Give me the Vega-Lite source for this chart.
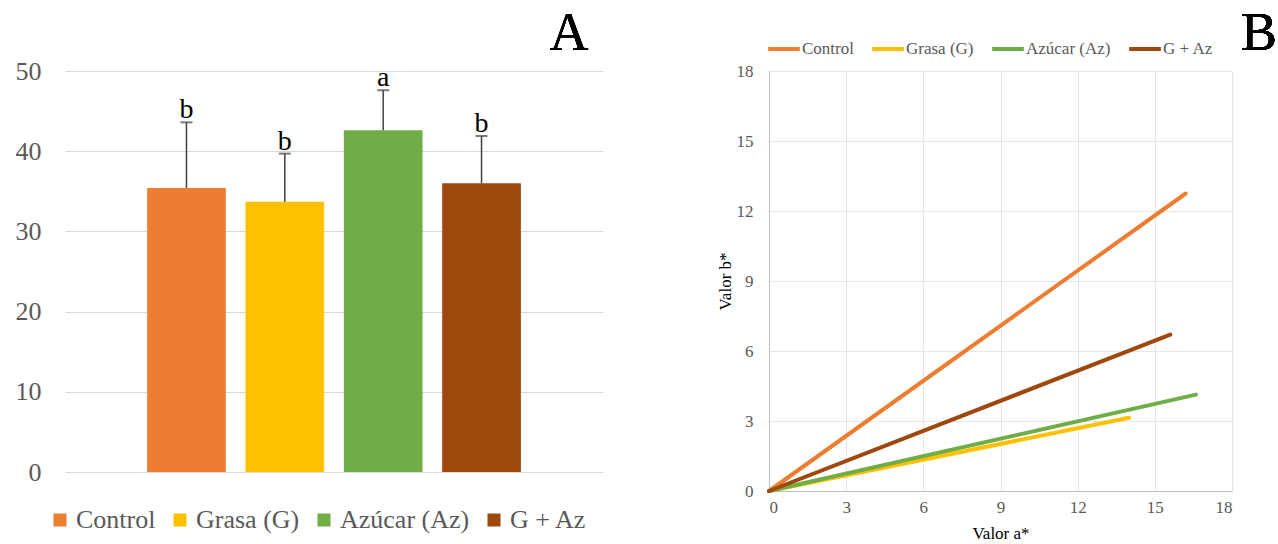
{
  "$schema": "https://vega.github.io/schema/vega-lite/v6.json",
  "background": "white",
  "padding": {"left": 15, "top": 6, "right": 0, "bottom": 0},
  "config": {"font": "Liberation Serif", "view": {"stroke": null}, "concat": {"spacing": 166}},
  "bounds": "flush",
  "resolve": {"scale": {"color": "independent"}, "legend": {"color": "independent"}},
  "datasets": {
    "bars": [
      {"grupo": "Control", "media": 35.4, "sup": 43.6, "letra": "b"},
      {"grupo": "Grasa (G)", "media": 33.7, "sup": 39.7, "letra": "b"},
      {"grupo": "Azúcar (Az)", "media": 42.6, "sup": 47.6, "letra": "a"},
      {"grupo": "G + Az", "media": 36.0, "sup": 41.9, "letra": "b"}
    ],
    "lines": [
      {"grupo": "Control", "a": 0, "b": 0},
      {"grupo": "Control", "a": 16.2, "b": 12.75},
      {"grupo": "Grasa (G)", "a": 0, "b": 0},
      {"grupo": "Grasa (G)", "a": 14.0, "b": 3.14},
      {"grupo": "Azúcar (Az)", "a": 0, "b": 0},
      {"grupo": "Azúcar (Az)", "a": 16.6, "b": 4.13},
      {"grupo": "G + Az", "a": 0, "b": 0},
      {"grupo": "G + Az", "a": 15.6, "b": 6.7}
    ]
  },
  "hconcat": [
    {
      "width": 538,
      "height": 401,
      "data": {"name": "bars"},
      "resolve": {"scale": {"x": "independent"}},
      "layer": [
        {
          "encoding": {
            "x": {"field": "grupo", "type": "nominal", "sort": ["Control", "Grasa (G)", "Azúcar (Az)", "G + Az"], "scale": {"paddingInner": 0.2, "paddingOuter": 0.835}, "axis": null}
          },
          "layer": [
            {
              "mark": {"type": "bar"},
              "encoding": {
                "y": {"field": "media", "type": "quantitative", "scale": {"domain": [0, 50]},
                  "axis": {"values": [0, 10, 20, 30, 40, 50], "title": null, "grid": true, "gridColor": "#d9d9d9", "gridWidth": 1, "domain": false, "ticks": false, "labelFontSize": 26, "labelColor": "#595959", "labelPadding": 24}},
                "color": {"field": "grupo", "type": "nominal",
                  "scale": {"domain": ["Control", "Grasa (G)", "Azúcar (Az)", "G + Az"], "range": ["#ED7D31", "#FFC000", "#70AD47", "#9E480E"]},
                  "legend": {"orient": "none", "legendX": -18, "legendY": 436, "direction": "horizontal", "title": null, "symbolType": "square", "symbolSize": 169, "symbolStrokeWidth": 0, "symbolOpacity": 1, "labelFontSize": 26, "labelColor": "#595959", "labelOffset": 3, "columnPadding": 11}}
              }
            },
            {
              "mark": {"type": "rule", "color": "#404040", "strokeWidth": 1.5},
              "encoding": {"y": {"field": "media", "type": "quantitative"}, "y2": {"field": "sup"}}
            },
            {
              "mark": {"type": "tick", "color": "#404040", "thickness": 2, "size": 12},
              "encoding": {"y": {"field": "sup", "type": "quantitative"}}
            },
            {
              "mark": {"type": "text", "baseline": "alphabetic", "dy": -4, "fontSize": 28, "color": "black"},
              "encoding": {"y": {"field": "sup", "type": "quantitative"}, "text": {"field": "letra"}}
            }
          ]
        },
        {
          "mark": {"type": "text", "text": "A", "fontSize": 54, "color": "black", "baseline": "middle", "align": "center", "clip": false},
          "encoding": {
            "x": {"datum": 0.937, "type": "quantitative", "scale": {"domain": [0, 1]}, "axis": null},
            "y": {"datum": 54.6, "type": "quantitative"}
          }
        }
      ]
    },
    {
      "width": 463,
      "height": 420,
      "data": {"name": "lines"},
      "layer": [
        {
          "mark": {"type": "line", "strokeWidth": 4, "strokeCap": "round"},
          "encoding": {
            "x": {"field": "a", "type": "quantitative", "scale": {"domain": [0, 18]},
              "axis": {"values": [0, 3, 6, 9, 12, 15, 18], "title": "Valor  a*", "grid": true, "gridColor": "#e6e6e6", "domainColor": "#bfbfbf", "ticks": false, "labelFontSize": 17, "labelColor": "#595959", "labelPadding": 8, "titleFontSize": 17, "titleFontWeight": "normal", "titleColor": "black", "titlePadding": 10}},
            "y": {"field": "b", "type": "quantitative", "scale": {"domain": [0, 18]},
              "axis": {"values": [0, 3, 6, 9, 12, 15, 18], "title": "Valor  b*", "grid": true, "gridColor": "#e6e6e6", "domainColor": "#bfbfbf", "ticks": false, "labelFontSize": 17, "labelColor": "#595959", "labelPadding": 16, "titleFontSize": 17, "titleFontWeight": "normal", "titleColor": "black", "titlePadding": 2}},
            "color": {"field": "grupo", "type": "nominal",
              "scale": {"domain": ["Control", "Grasa (G)", "Azúcar (Az)", "G + Az"], "range": ["#ED7D31", "#FFC000", "#70AD47", "#9E480E"]},
              "legend": {"orient": "none", "legendX": -3, "legendY": -40, "direction": "horizontal", "title": null, "symbolType": "stroke", "symbolSize": 1000, "symbolStrokeWidth": 4, "labelFontSize": 17, "labelColor": "#595959", "labelOffset": 0, "columnPadding": 10}}
          }
        },
        {
          "mark": {"type": "text", "text": "B", "fontSize": 54, "color": "black", "baseline": "middle", "align": "center", "clip": false},
          "encoding": {
            "x": {"datum": 19.05, "type": "quantitative"},
            "y": {"datum": 19.6, "type": "quantitative"}
          }
        }
      ]
    }
  ]
}
